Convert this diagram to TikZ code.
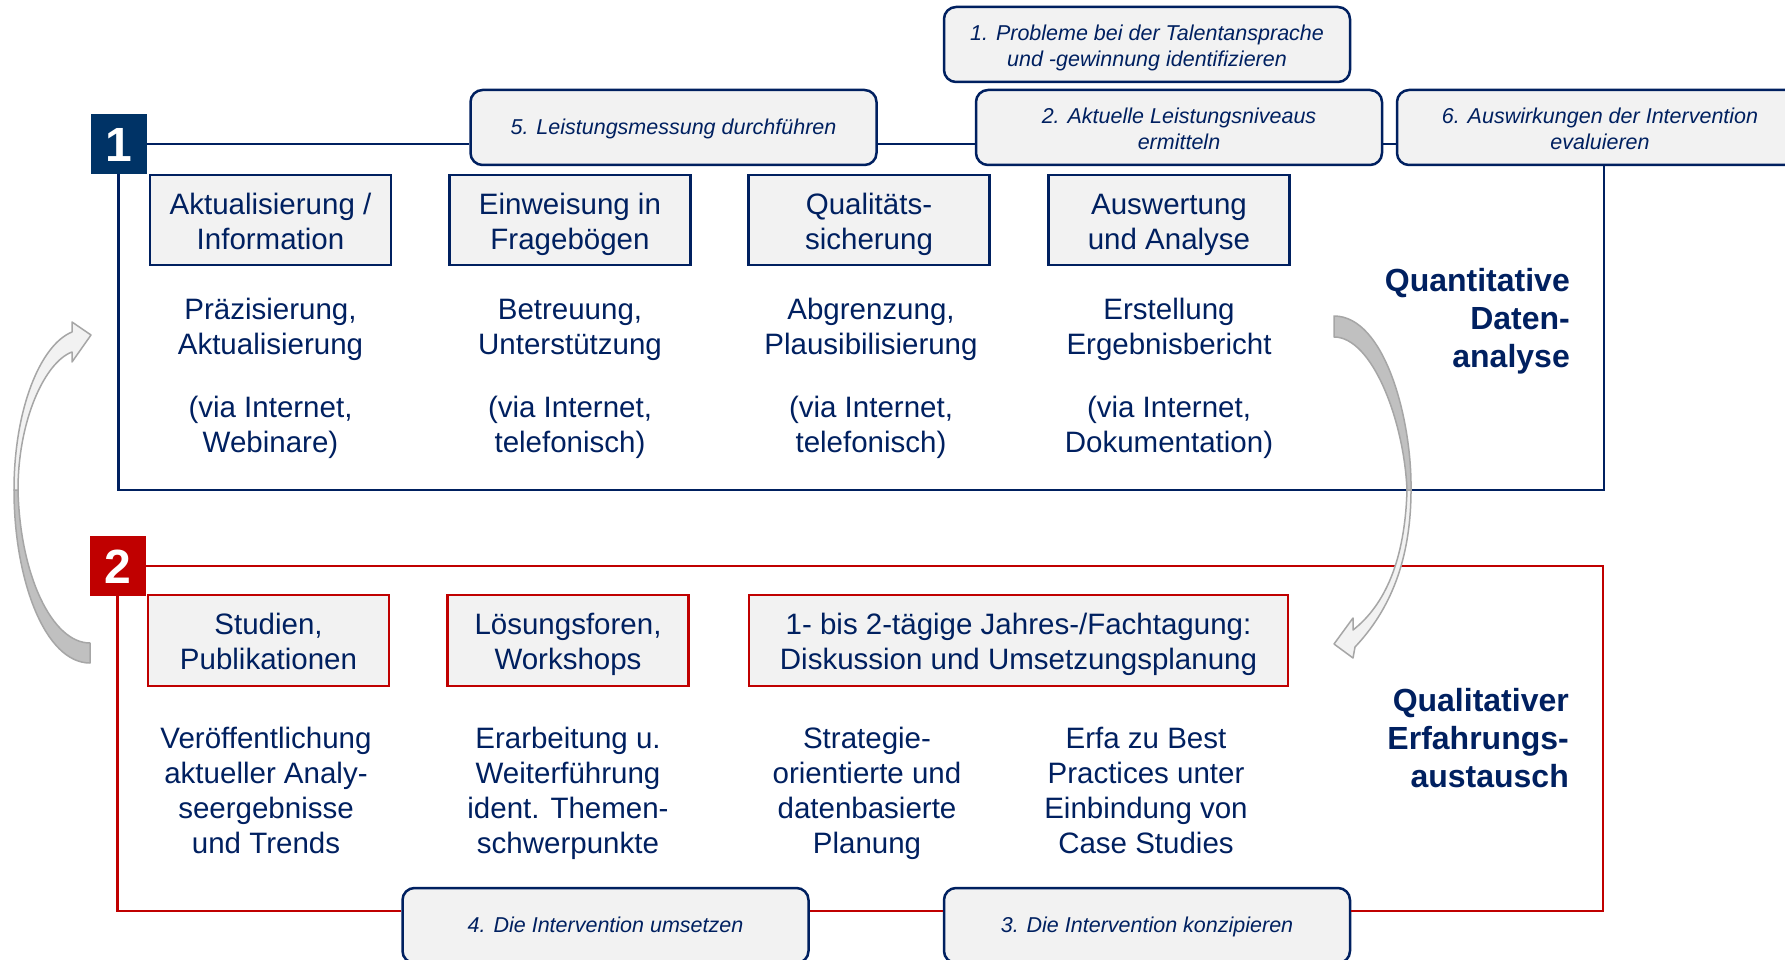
\documentclass[tikz,border=0pt]{standalone}
\usepackage{fontspec}
\setmainfont{Liberation Sans}

\definecolor{navy}{RGB}{0,32,96}
\definecolor{navyfill}{RGB}{0,51,102}
\definecolor{darkred}{RGB}{192,0,0}
\definecolor{boxgray}{RGB}{242,242,242}
\definecolor{arrowline}{RGB}{166,166,166}
\definecolor{arrowdark}{RGB}{192,192,192}

% font sizes
\newcommand{\bodysize}{\fontsize{29.5}{35}\selectfont}
\newcommand{\sidesize}{\fontsize{32}{38}\selectfont\bfseries}
\newcommand{\stepsize}{\fontsize{21.5}{26}\selectfont\itshape}
% struts fixing the height of the first line and the depth of the last line
\newcommand{\bx}[1]{\rule{0pt}{31.1pt}#1\rule[-6.2pt]{0pt}{6.2pt}}
\newcommand{\bxr}[1]{\rule{0pt}{28.4pt}#1\rule[-6.2pt]{0pt}{6.2pt}}
\newcommand{\tx}[1]{\rule{0pt}{31pt}#1\rule[-6.2pt]{0pt}{6.2pt}}
\newcommand{\sone}[1]{\rule{0pt}{19.2pt}#1\rule[-5pt]{0pt}{5pt}}
\newcommand{\stwo}[1]{\rule{0pt}{23pt}#1\rule[-5pt]{0pt}{5pt}}

\tikzset{
  bodytext/.style={font=\bodysize, text=navy, align=center, inner sep=0pt},
  catbox/.style={bodytext, draw=navy, line width=2.3pt, fill=boxgray,
    minimum width=241pt, minimum height=90pt},
  redbox/.style={catbox, draw=darkred, minimum height=91pt},
  stepbox/.style={font=\stepsize, text=navy, align=center, inner sep=0pt,
    draw=navy, line width=2.5pt, fill=boxgray, rounded corners=12pt,
    minimum width=406pt, minimum height=75pt},
  numbox/.style={fill=#1, text=white, font=\fontsize{48}{48}\selectfont\bfseries,
    minimum width=56pt, minimum height=60pt, inner sep=0pt,
    text height=34.4pt, text depth=0pt},
  sidetext/.style={font=\sidesize, text=navy, align=right, inner sep=0pt, anchor=east},
  frameblue/.style={draw=navy, line width=2.5pt},
  framered/.style={draw=darkred, line width=2.5pt},
  arrback/.style={fill=arrowdark, draw=arrowline, line width=1.5pt, line join=round},
  arrfront/.style={fill=boxgray, draw=arrowline, line width=1.5pt, line join=round},
}

\begin{document}
\begin{tikzpicture}[x=1pt,y=-1pt]
\clip (0,0) rectangle (1785,960);
\fill[white] (0,0) rectangle (1785,960);

% ---------- block 1: quantitative data analysis ----------
\node[numbox=navyfill] (n1) at (118.5,144) {1};
\coordinate (q1se) at (1604,490);

\node[stepbox] (s1) at (1147,44.5) {\stwo{1. Probleme bei der Talentansprache\\und -gewinnung identifizieren}};
\node[stepbox] (s2) at (1179,127.5) {\stwo{2. Aktuelle Leistungsniveaus\\ermitteln}};
\node[stepbox] (s5) at (673.5,127.5) {\sone{5. Leistungsmessung durchführen}};
\node[stepbox] (s6) at (1600,127.5) {\stwo{6. Auswirkungen der Intervention\\evaluieren}};

\draw[frameblue] (n1.east) -- (n1.east -| s5.west);
\draw[frameblue] (s5.east |- n1.east) -- (n1.east -| s2.west);
\draw[frameblue] (s2.east |- n1.east) -- (n1.east -| s6.west);
\draw[frameblue] (s6.south -| q1se) -- (q1se) -- (q1se -| n1.south) -- (n1.south);

\node[catbox] (a1) at (270.5,220) {\bx{Aktualisierung /\\Information}};
\node[catbox] (a2) at (570,220) {\bx{Einweisung in\\Fragebögen}};
\node[catbox] (a3) at (869,220) {\bx{Qualitäts-\\sicherung}};
\node[catbox] (a4) at (1169,220) {\bx{Auswertung\\und Analyse}};

\node[bodytext] (d1) at (270.5,324.3) {\tx{Präzisierung,\\Aktualisierung}};
\node[bodytext] (d2) at (570,324.3) {\tx{Betreuung,\\Unterstützung}};
\node[bodytext] (d3) at (871,324.3) {\tx{Abgrenzung,\\Plausibilisierung}};
\node[bodytext] (d4) at (1169,324.3) {\tx{Erstellung\\Ergebnisbericht}};

\node[bodytext] (v1) at (270.5,422.3) {\tx{(via Internet,\\Webinare)}};
\node[bodytext] (v2) at (570,422.3) {\tx{(via Internet,\\telefonisch)}};
\node[bodytext] (v3) at (871,422.3) {\tx{(via Internet,\\telefonisch)}};
\node[bodytext] (v4) at (1169,422.3) {\tx{(via Internet,\\Dokumentation)}};

\node[sidetext] (t1) at (1570,320.9) {Quantitative\\Daten-\\analyse};

% ---------- block 2: qualitative exchange of experience ----------
\node[numbox=darkred] (n2) at (117.5,566) {2};
\coordinate (q2ne) at (1603,566);
\coordinate (q2se) at (1603,911);

\node[stepbox] (s4) at (605.5,925.5) {\sone{4. Die Intervention umsetzen}};
\node[stepbox] (s3) at (1147,925.5) {\sone{3. Die Intervention konzipieren}};

\draw[framered] (n2.east) -- (q2ne) -- (q2se) -- (s3.east |- q2se);
\draw[framered] (s3.west |- q2se) -- (s4.east |- q2se);
\draw[framered] (s4.west |- q2se) -- (q2se -| n2.south) -- (n2.south);

\node[redbox] (r1) at (268.5,640.5) {\bxr{Studien,\\Publikationen}};
\node[redbox] (r2) at (568,640.5) {\bxr{Lösungsforen,\\Workshops}};
\node[redbox, minimum width=539pt] (r3) at (1018.5,640.5) {\bxr{1- bis 2-tägige Jahres-/Fachtagung:\\Diskussion und Umsetzungsplanung}};

\node[bodytext] (e1) at (266,788.3) {\tx{Veröffentlichung\\aktueller Analy-\\seergebnisse\\und Trends}};
\node[bodytext] (e2) at (568,788.3) {\tx{Erarbeitung u.\\Weiterführung\\ident. Themen-\\schwerpunkte}};
\node[bodytext] (e3) at (867,788.3) {\tx{Strategie-\\orientierte und\\datenbasierte\\Planung}};
\node[bodytext] (e4) at (1146,788.3) {\tx{Erfa zu Best\\Practices unter\\Einbindung von\\Case Studies}};

\node[sidetext] (t2) at (1569,738.5) {Qualitativer\\Erfahrungs-\\austausch};

% ---------- curved transition arrows ----------
% right: from block 1 down to block 2
\filldraw[arrback] (1334,316) .. controls (1385,316) and (1412,420) .. (1411,490)
  -- (1407,490) .. controls (1404,420) and (1372,337) .. (1334,337) -- cycle;
\filldraw[arrfront] (1407,490) .. controls (1405,560) and (1385,605) .. (1353,630)
  -- (1353,618) -- (1334,644) -- (1353,658) -- (1355,647)
  .. controls (1390,610) and (1411,560) .. (1411,490) -- cycle;
% left: from block 2 back up to block 1
\filldraw[arrback] (14,490) .. controls (14,580) and (45,663) .. (90,663)
  -- (90,643) .. controls (52,643) and (20,575) .. (18,490) -- cycle;
\filldraw[arrfront] (14,490) .. controls (14,410) and (40,345) .. (72,332)
  -- (72,322) -- (91,335) -- (72,362) -- (72,352)
  .. controls (45,362) and (18,420) .. (18,490) -- cycle;
\end{tikzpicture}
\end{document}
